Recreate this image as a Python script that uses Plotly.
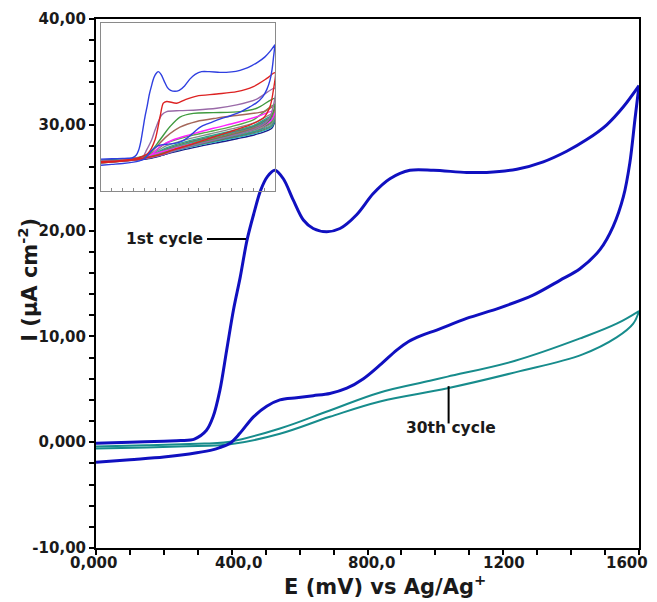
import plotly.graph_objects as go

# ---------------- data ----------------
# Main chart: 1st cycle (forward / reverse scan)
E1_FWD = [0, 100, 200, 250, 290, 325, 345, 365, 385, 405, 425, 445, 465, 485, 505, 527,
          552, 581, 611, 640, 680, 719, 768, 817, 866, 925, 994, 1092, 1151, 1240, 1318,
          1387, 1446, 1505, 1554, 1600]
I1_FWD = [-0.1, 0.0, 0.1, 0.15, 0.3, 1.1, 2.4, 4.9, 8.7, 12.5, 15.6, 19.1, 21.6, 23.8, 25.1, 25.7,
          24.9, 22.9, 21.0, 20.2, 19.9, 20.2, 21.5, 23.5, 24.9, 25.7, 25.7, 25.5, 25.5, 25.8, 26.5,
          27.5, 28.6, 30.0, 31.7, 33.7]
E1_REV = [1600, 1588, 1573, 1554, 1524, 1485, 1426, 1367, 1288, 1190, 1092, 1004, 960, 920, 886, 837,
          788, 739, 689, 640, 591, 542, 503, 464, 424, 395, 365, 346, 297, 200, 100, 0]
I1_REV = [33.7, 30.5, 26.4, 23.2, 20.4, 18.2, 16.4, 15.3, 13.9, 12.7, 11.7, 10.6, 10.1, 9.5, 8.7, 7.3,
          6.0, 5.1, 4.6, 4.4, 4.2, 4.0, 3.4, 2.4, 0.84, -0.1, -0.5, -0.7, -1.0, -1.4, -1.65, -1.9]

# Main chart: 30th cycle
E30_FWD = [0, 150, 300, 346, 395, 542, 689, 837, 984, 1036, 1235, 1434, 1534, 1600]
I30_FWD = [-0.4, -0.3, -0.15, -0.1, 0.05, 1.3, 3.0, 4.7, 5.8, 6.2, 7.7, 9.9, 11.2, 12.4]
E30_REV = [1600, 1583, 1534, 1434, 1235, 1036, 837, 689, 542, 395, 300, 150, 0]
I30_REV = [12.4, 11.2, 9.9, 8.3, 6.6, 5.1, 3.85, 2.4, 0.8, -0.2, -0.35, -0.5, -0.6]

# Inset: intermediate cycles (forward then reverse)
C2_E = [0, 200, 350, 435, 497, 543, 573, 604, 696, 772, 880, 1064, 1248, 1401, 1524, 1600,
        1585, 1554, 1493, 1370, 1186, 1002, 818, 665, 543, 451, 300, 0]
C2_I = [-0.9, -0.5, 0.3, 1.7, 5.6, 12.4, 16.4, 16.9, 16.4, 17.4, 18.5, 19.1, 19.8, 21.3, 23.7, 25.4,
        20.3, 15.4, 12.0, 10.0, 8.0, 6.1, 4.1, 2.6, 1.2, 0.5, -0.4, -1.2]
C3_E = [0, 200, 380, 420, 466, 497, 558, 604, 726, 880, 1064, 1248, 1432, 1600,
        1580, 1540, 1450, 1300, 1100, 900, 700, 550, 450, 200, 0]
C3_I = [-0.9, -0.5, 0.4, 2.6, 5.6, 8.5, 12.9, 13.9, 14.2, 14.4, 14.9, 15.9, 17.6, 20.8,
        15.0, 11.5, 9.3, 7.6, 6.0, 4.4, 2.6, 1.0, 0.3, -0.7, -1.2]
C4_E = [0, 200, 400, 451, 543, 635, 726, 849, 1033, 1278, 1432, 1600,
        1580, 1530, 1430, 1250, 1050, 850, 650, 500, 400, 200, 0]
C4_I = [-0.9, -0.5, 0.5, 1.7, 5.6, 9.5, 12.3, 13.4, 13.6, 13.9, 14.9, 17.8,
        13.5, 10.8, 9.0, 7.3, 5.8, 4.2, 2.4, 0.9, 0.2, -0.7, -1.2]
C5_E = [0, 200, 420, 481, 604, 726, 880, 1064, 1278, 1493, 1600,
        1570, 1500, 1400, 1200, 1000, 800, 600, 450, 200, 0]
C5_I = [-0.9, -0.5, 0.8, 2.6, 6.6, 9.3, 11.0, 12.0, 12.9, 13.9, 15.5,
        12.5, 10.3, 9.0, 7.2, 5.6, 4.0, 2.0, 0.4, -0.7, -1.2]
C6_E = [0, 200, 450, 543, 665, 818, 1033, 1248, 1432, 1600,
        1570, 1480, 1300, 1100, 900, 700, 500, 350, 150, 0]
C6_I = [-0.8, -0.4, 1.0, 3.6, 5.6, 7.1, 9.0, 10.7, 12.4, 14.2,
        11.5, 9.6, 7.9, 6.3, 4.9, 3.3, 1.5, 0.2, -0.6, -1.0]

# Inset: later cycles (the lower bundle)
EB_FWD = [0, 200, 450, 600, 800, 1000, 1200, 1400, 1600]
EB_REV = [1570, 1450, 1250, 1050, 850, 650, 450, 250, 0]
C7_FWD = [-0.8, -0.4, 1.4, 4.6, 6.6, 8.0, 9.5, 11.5, 16.0]
C7_REV = [11.0, 9.2, 7.6, 6.2, 4.7, 3.0, 1.0, -0.3, -0.9]
C8_FWD = [-0.7, -0.4, 1.2, 3.8, 5.8, 7.3, 8.8, 10.5, 13.5]
C8_REV = [10.5, 8.8, 7.2, 5.9, 4.5, 2.8, 0.8, -0.4, -0.9]
C9_FWD = [-0.7, -0.3, 1.0, 3.2, 5.2, 6.7, 8.2, 9.8, 13.0]
C9_REV = [10.0, 8.4, 6.9, 5.6, 4.2, 2.5, 0.6, -0.4, -0.8]
C10_FWD = [-0.6, -0.3, 0.9, 2.9, 4.9, 6.4, 7.9, 9.5, 12.6]
C10_REV = [9.7, 8.1, 6.6, 5.3, 3.9, 2.3, 0.5, -0.4, -0.8]
C11_FWD = [-0.6, -0.3, 0.7, 2.6, 4.6, 6.1, 7.6, 9.2, 12.3]
C11_REV = [9.4, 7.8, 6.3, 5.0, 3.7, 2.1, 0.4, -0.4, -0.7]
C12_FWD = [-0.6, -0.3, 0.5, 2.2, 4.1, 5.6, 7.1, 8.7, 11.8]
C12_REV = [9.0, 7.4, 5.9, 4.6, 3.3, 1.8, 0.2, -0.5, -0.7]

# Ticks
X_TICKS = [0, 400, 800, 1200, 1600]
X_TICK_LABELS = ["0,000", "400,0", "800,0", "1200", "1600"]
Y_TICKS = [-10, 0, 10, 20, 30, 40]
Y_TICK_LABELS = ["-10,00", "0,000", "10,00", "20,00", "30,00", "40,00"]

# ---------------- figure ----------------
FONT = "DejaVu Sans"
BLUE = "#1010c0"
TEAL = "#178c8c"

fig = go.Figure()

def main_line(x, y, color, width, smooth):
    fig.add_trace(go.Scatter(x=x, y=y, mode="lines",
                             line=dict(color=color, width=width, shape="spline", smoothing=smooth),
                             hoverinfo="skip", showlegend=False))

main_line(E30_FWD, I30_FWD, TEAL, 2, 1.1)
main_line(E30_REV, I30_REV, TEAL, 2, 1.1)
main_line(E1_FWD, I1_FWD, BLUE, 3, 0.9)
main_line(E1_REV, I1_REV, BLUE, 3, 0.9)

def inset_line(x, y, color):
    fig.add_trace(go.Scatter(x=x, y=y, mode="lines", xaxis="x2", yaxis="y2",
                             line=dict(color=color, width=1.4, shape="spline", smoothing=0.8),
                             hoverinfo="skip", showlegend=False))

inset_line(E30_FWD + E30_REV, I30_FWD + I30_REV, "#2a1a80")
bundle = [(C12_FWD, C12_REV, "#1a1a8c"), (C11_FWD, C11_REV, "#20b8b8"),
          (C10_FWD, C10_REV, "#707060"), (C9_FWD, C9_REV, "#2fa58a"),
          (C8_FWD, C8_REV, "#8a8a8a"), (C7_FWD, C7_REV, "#5aa84a")]
for fwd, rev, col in bundle:
    inset_line(EB_FWD + EB_REV, fwd + rev, col)
inset_line(C6_E, C6_I, "#ff22ff")
inset_line(C5_E, C5_I, "#a5675a")
inset_line(C4_E, C4_I, "#3f9a3f")
inset_line(C3_E, C3_I, "#9a6aa8")
inset_line(C2_E, C2_I, "#dd2222")
inset_line(E1_FWD + E1_REV, I1_FWD + I1_REV, "#2f3fe0")

tickfont = dict(family=FONT, size=15, color="#1a1a1a", weight="bold")

# the page body adds an 8 px offset, so the figure is shrunk by that amount
fig.update_layout(
    template="none",
    width=649, height=594, autosize=False,
    margin=dict(l=88, r=18, t=11, b=54, pad=0),
    paper_bgcolor="white", plot_bgcolor="rgba(0,0,0,0)",
    showlegend=False,
    xaxis=dict(domain=[0, 1], range=[0, 1600], showline=True, linecolor="black", linewidth=2,
               mirror=True, ticks="outside", ticklen=5, tickwidth=1.5, tickcolor="black",
               tickmode="array", tickvals=X_TICKS, showticklabels=False,
               minor=dict(tickmode="linear", tick0=0, dtick=100, ticks="outside", ticklen=5,
                          tickwidth=1.5, tickcolor="black"),
               showgrid=False, zeroline=False, automargin=False),
    yaxis=dict(domain=[0, 1], range=[-10, 40], showline=True, linecolor="black", linewidth=2,
               mirror=True, ticks="outside", ticklen=5, tickwidth=1.5, tickcolor="black",
               tickmode="array", tickvals=Y_TICKS, ticktext=Y_TICK_LABELS, tickfont=tickfont,
               minor=dict(tickmode="linear", tick0=0, dtick=2, ticks="outside", ticklen=5,
                          tickwidth=1.5, tickcolor="black"),
               showgrid=False, zeroline=False, automargin=False),
    xaxis2=dict(domain=[0.0092, 0.3297], anchor="y2", range=[0, 1600], showline=True,
                linecolor="#8a8a8a", linewidth=1, mirror=True, ticks="inside", ticklen=3,
                tickcolor="#8a8a8a", tickmode="linear", tick0=0, dtick=100,
                showticklabels=False, showgrid=False, zeroline=False),
    yaxis2=dict(domain=[0.675, 0.992], anchor="x2", range=[-9.5, 40], showline=True,
                linecolor="#8a8a8a", linewidth=1, mirror=True, ticks="",
                showticklabels=False, showgrid=False, zeroline=False),
)

annotations = []
X_LABEL_NUDGE = [-3, 7, 4, 1, -12]
for val, lab, dx in zip(X_TICKS, X_TICK_LABELS, X_LABEL_NUDGE):
    annotations.append(dict(x=val, xref="x", y=0, yref="paper", yanchor="top", xanchor="center",
                            yshift=-4, xshift=dx, text=lab, showarrow=False, font=tickfont))
annotations.append(dict(x=0.532, y=-0.07, xref="paper", yref="paper", xanchor="center",
                        yanchor="middle", showarrow=False,
                        text="E (mV) vs Ag/Ag<sup>+</sup>",
                        font=dict(family=FONT, size=21, color="#1a1a1a", weight="bold")))
annotations.append(dict(x=-0.1252, y=0.507, xref="paper", yref="paper", xanchor="center",
                        yanchor="middle", showarrow=False, textangle=-90,
                        text="I (µA cm<sup>-2</sup>)",
                        font=dict(family=FONT, size=21, color="#1a1a1a", weight="bold")))
lab_font = dict(family=FONT, size=15.5, color="#1a1a1a", weight="bold")
annotations.append(dict(x=321, y=19.2, xref="x", yref="y", xanchor="right", yanchor="middle",
                        text="1st cycle", showarrow=False, font=lab_font))
annotations.append(dict(x=1046, y=1.3, xref="x", yref="y", xanchor="center", yanchor="middle",
                        text="30th cycle", showarrow=False, font=lab_font))
fig.update_layout(annotations=annotations)

fig.add_shape(type="line", xref="x", yref="y", x0=327, x1=442, y0=19.2, y1=19.2,
              line=dict(color="black", width=2))
fig.add_shape(type="line", xref="x", yref="y", x0=1039, x1=1039, y0=1.77, y1=5.3,
              line=dict(color="black", width=2))

fig.write_html("out.html")
